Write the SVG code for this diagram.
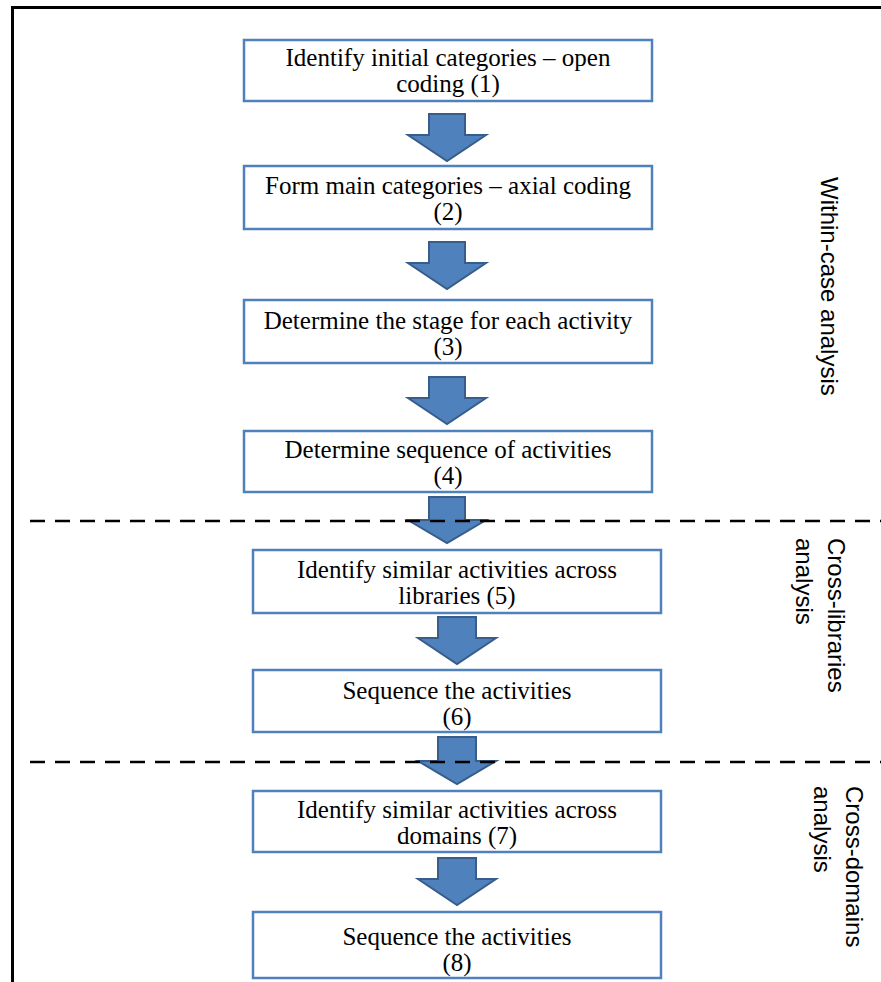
<svg xmlns="http://www.w3.org/2000/svg" width="881" height="982" viewBox="0 0 881 982">
  <style>
    .box { fill: #ffffff; stroke: #4f81bd; stroke-width: 2.5; }
    .lbl { font-family: "Liberation Serif", "Times New Roman", serif; font-size: 25px; fill: #000000; text-anchor: middle; }
    .arrow { fill: #4f81bd; stroke: #385d8a; stroke-width: 2; stroke-linejoin: miter; }
    .sep { stroke: #000000; stroke-width: 2.5; stroke-dasharray: 15 10; fill: none; }
    .frame { stroke: #000000; stroke-width: 3; fill: none; }
    .side { font-family: "Liberation Sans", Arial, sans-serif; font-size: 24px; fill: #000000; }
  </style>

  <!-- outer frame (top and left edges) -->
  <path class="frame" d="M12.5,982 V7.5 H881"/>

  <!-- block arrows between steps -->
  <g id="connectors">
    <path class="arrow" d="M429,114 H465 V135 H486 L447,161 L408,135 H429 Z"/>
    <path class="arrow" d="M429,242 H465 V263 H486 L447,289 L408,263 H429 Z"/>
    <path class="arrow" d="M429,377 H465 V398 H486 L447,424 L408,398 H429 Z"/>
    <path class="arrow" d="M429,497 H465 V520 H486 L447,543 L408,520 H429 Z"/>
    <path class="arrow" d="M438,617 H476 V638 H496 L457,664 L418,638 H438 Z"/>
    <path class="arrow" d="M438,737 H476 V761 H496 L457,784 L418,761 H438 Z"/>
    <path class="arrow" d="M438,858 H476 V879 H496 L457,905 L418,879 H438 Z"/>
  </g>

  <!-- phase separators -->
  <g id="separators">
    <line class="sep" x1="30" y1="521" x2="881" y2="521"/>
    <line class="sep" x1="30" y1="762" x2="881" y2="762"/>
  </g>

  <g id="step1">
    <rect class="box" x="244" y="40" width="408" height="61"/>
    <text class="lbl" x="448" y="66">Identify initial categories – open</text>
    <text class="lbl" x="448" y="92">coding (1)</text>
  </g>
  <g id="step2">
    <rect class="box" x="244" y="166" width="408" height="63"/>
    <text class="lbl" x="448" y="194">Form main categories – axial coding</text>
    <text class="lbl" x="448" y="220">(2)</text>
  </g>
  <g id="step3">
    <rect class="box" x="244" y="300" width="408" height="63"/>
    <text class="lbl" x="448" y="329">Determine the stage for each activity</text>
    <text class="lbl" x="448" y="355">(3)</text>
  </g>
  <g id="step4">
    <rect class="box" x="244" y="431" width="408" height="61"/>
    <text class="lbl" x="448" y="458">Determine sequence of activities</text>
    <text class="lbl" x="448" y="484">(4)</text>
  </g>
  <g id="step5">
    <rect class="box" x="253" y="550" width="408" height="63"/>
    <text class="lbl" x="457" y="578">Identify similar activities across</text>
    <text class="lbl" x="457" y="604">libraries (5)</text>
  </g>
  <g id="step6">
    <rect class="box" x="253" y="670" width="408" height="62"/>
    <text class="lbl" x="457" y="699">Sequence the activities</text>
    <text class="lbl" x="457" y="725">(6)</text>
  </g>
  <g id="step7">
    <rect class="box" x="253" y="791" width="408" height="61"/>
    <text class="lbl" x="457" y="818">Identify similar activities across</text>
    <text class="lbl" x="457" y="844">domains (7)</text>
  </g>
  <g id="step8">
    <rect class="box" x="253" y="912" width="408" height="66"/>
    <text class="lbl" x="457" y="945">Sequence the activities</text>
    <text class="lbl" x="457" y="971">(8)</text>
  </g>

  <!-- phase labels, rotated to read top-down -->
  <g id="phase-within">
    <text class="side" transform="translate(821,177) rotate(90)">Within-case analysis</text>
  </g>
  <g id="phase-libraries">
    <text class="side" transform="translate(828,538) rotate(90)">Cross-libraries</text>
    <text class="side" transform="translate(796,538) rotate(90)">analysis</text>
  </g>
  <g id="phase-domains">
    <text class="side" transform="translate(846,786) rotate(90)">Cross-domains</text>
    <text class="side" transform="translate(814,786) rotate(90)">analysis</text>
  </g>
</svg>
